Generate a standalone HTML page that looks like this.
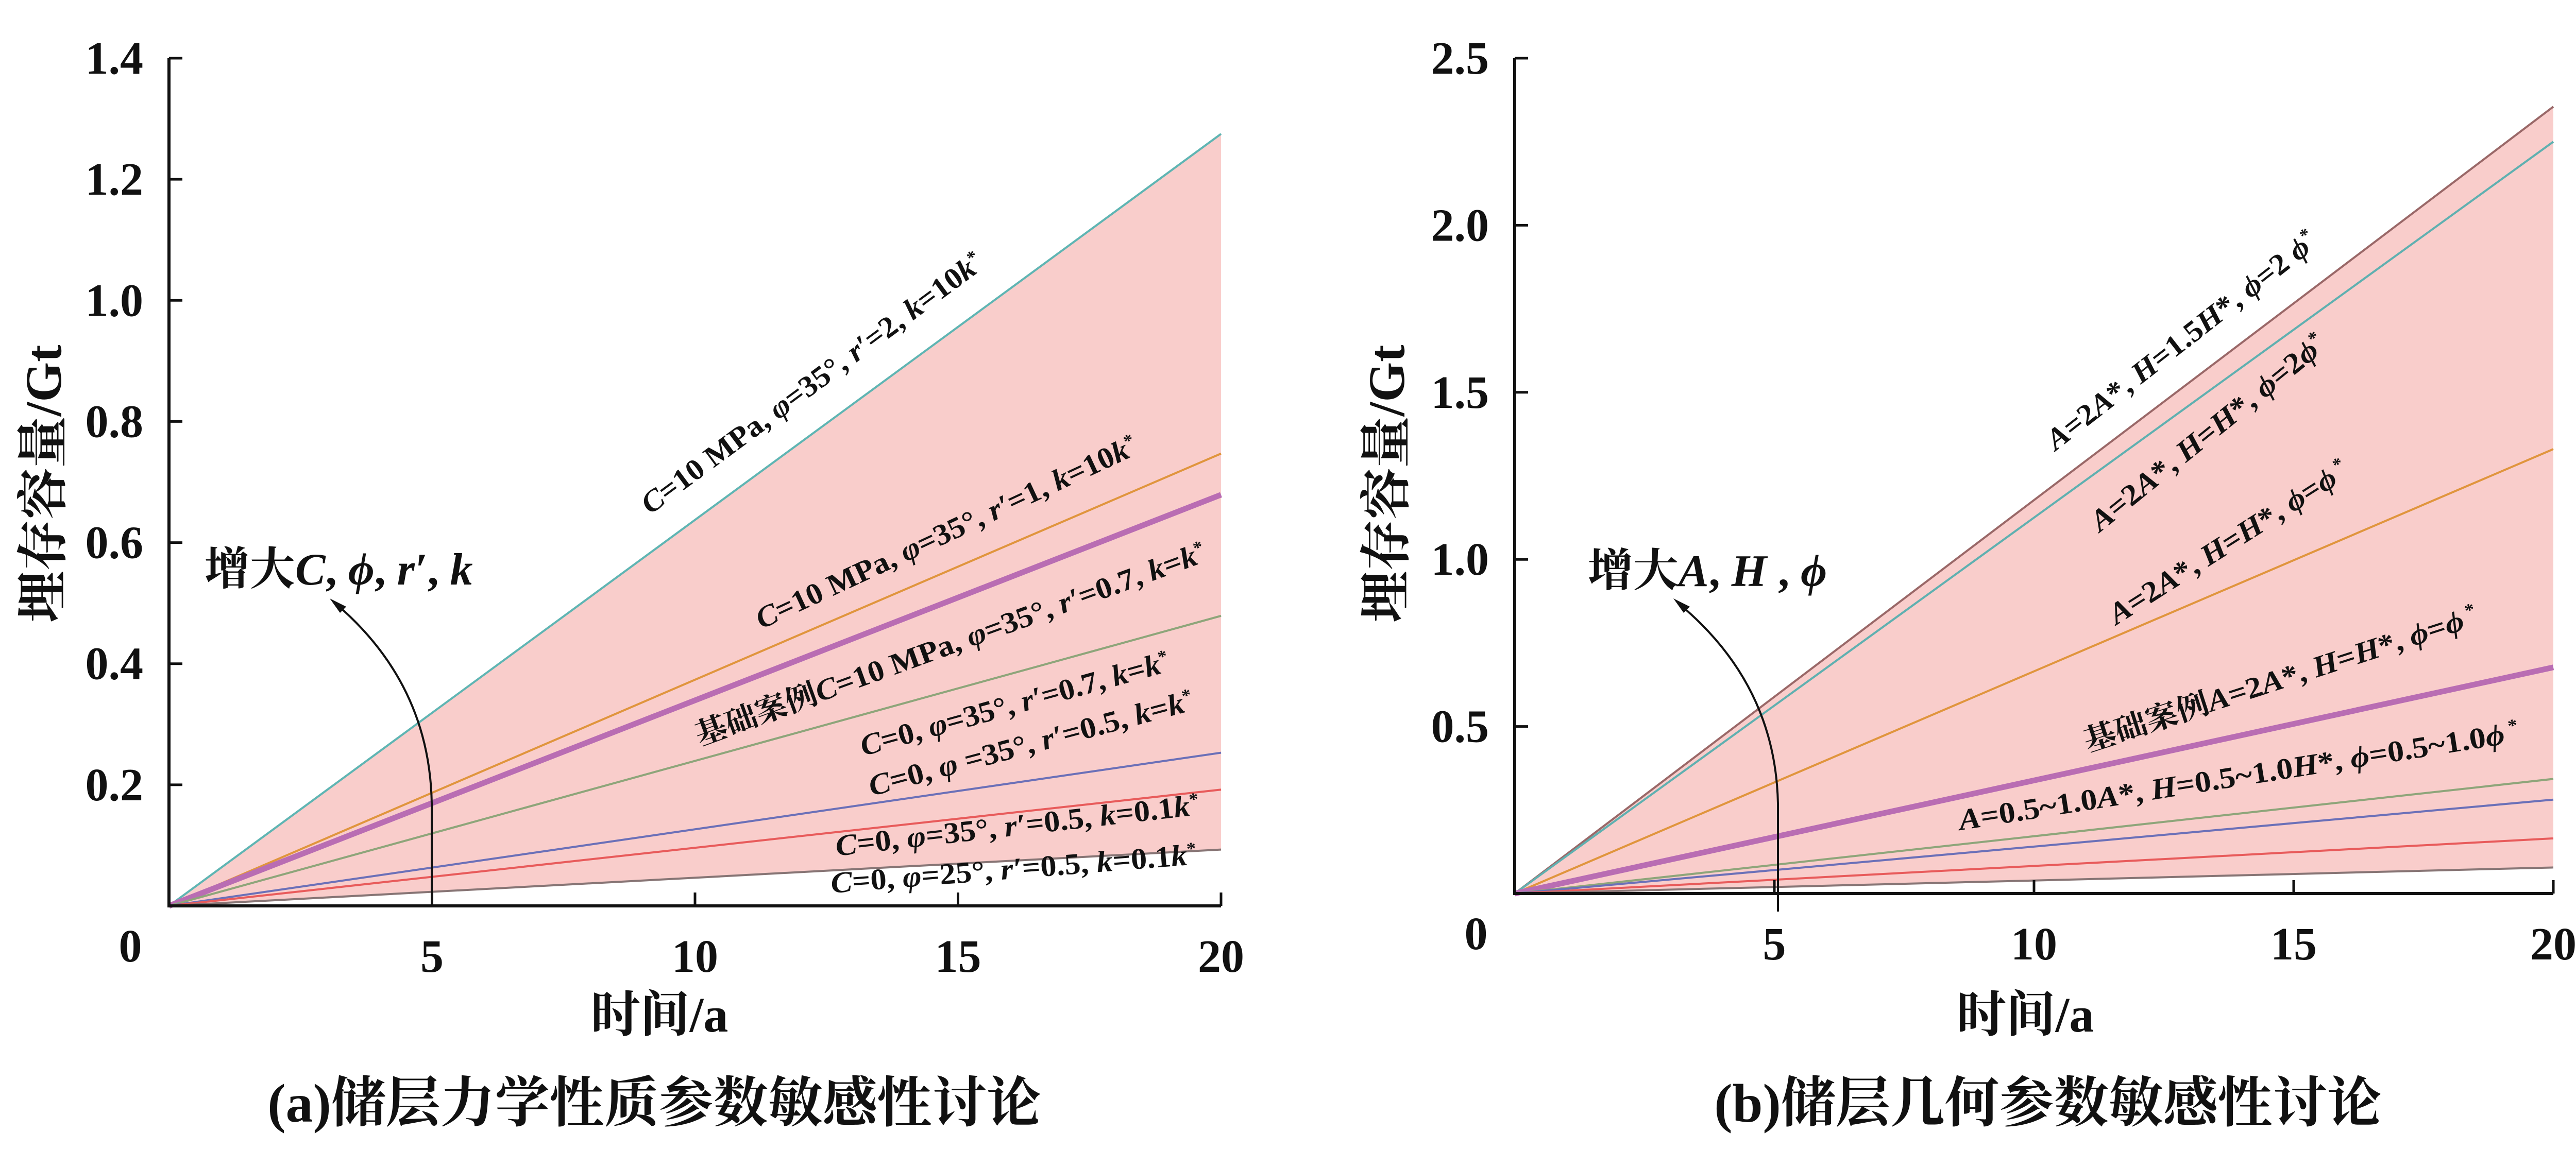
<!DOCTYPE html>
<html><head><meta charset="utf-8"><style>
html,body{margin:0;padding:0;background:#fff;}
svg{display:block;}
text{font-family:"Liberation Serif","Noto Serif CJK SC",serif;font-weight:bold;fill:#111;}
</style></head><body>
<svg id="chart" width="5070" height="2266" viewBox="0 0 5070 2266" xmlns="http://www.w3.org/2000/svg">
<rect width="5070" height="2266" fill="#fff"/>
</svg>
<script>
// ---------- data ----------
const years = [0, 20];
const xTicks = [5, 10, 15, 20];
const aYTicks = [0.2, 0.4, 0.6, 0.8, 1.0, 1.2, 1.4];
const bYTicks = [0.5, 1.0, 1.5, 2.0, 2.5];
const aNames = ['c10-r2-k10', 'c10-r1-k10', 'base-case', 'c0-r07', 'c0-r05', 'c0-r05-k01', 'c0-phi25-k01'];
const aEnd = [1.275, 0.747, 0.679, 0.479, 0.253, 0.192, 0.093];
const aColors = ['#5fb5b3', '#e0953d', '#b96db3', '#8ea57a', '#6b70b8', '#e85b5b', '#877575'];
const bNames = ['A2-H15-phi2', 'A2-H1-phi2', 'A2-H1-phi1', 'base-case', 'low-1', 'low-2', 'low-3', 'low-4'];
const bEnd = [2.355, 2.25, 1.33, 0.677, 0.343, 0.281, 0.165, 0.078];
const bColors = ['#9a6868', '#5fb0b0', '#e0953d', '#b96db3', '#8ea57a', '#6b70b8', '#e85b5b', '#877575'];

const NS = 'http://www.w3.org/2000/svg';
const svg = document.getElementById('chart');
function mk(tag, attrs, parent) {
  const e = document.createElementNS(NS, tag);
  for (const k in attrs) e.setAttribute(k, attrs[k]);
  (parent || svg).appendChild(e);
  return e;
}

function drawPanel(p) {
  const g = mk('g', {});
  
  
  const sx = v => p.x0 + (v / 20) * (p.x1 - p.x0);
  const sy = v => p.y0 - (v / p.ymax) * (p.y0 - p.yTop);
  const top = p.ends[0], bot = p.ends[p.ends.length - 1];
  const fill = mk('polygon', {points: `${sx(years[0])},${sy(0)} ${sx(years[1])},${sy(top)} ${sx(years[1])},${sy(bot)}`, fill: '#f9cdcb'}, g);
  
  
  p.ends.forEach((v, i) => {
    const l = mk('line', {x1: sx(years[0]), y1: sy(0), x2: sx(years[1]), y2: sy(v), stroke: p.colors[i], 'stroke-width': p.names[i] === 'base-case' ? 11 : 4}, g);
    
    
  });
  const ax = mk('path', {d: `M${p.x0},${p.yTop} V${p.y0} H${p.x1}`, fill: 'none', stroke: '#111', 'stroke-width': 6}, g);
  
  
  p.yTicks.forEach(t => {
    const y = sy(t);
    const tk = mk('line', {x1: p.x0, x2: p.x0 + 26, y1: y, y2: y, stroke: '#111', 'stroke-width': 5}, g);
    
    
    const tl = mk('text', {x: p.x0 - 50, y: y + 30, 'text-anchor': 'end', 'font-size': 90}, g);
    tl.textContent = t.toFixed(1);
    
    
  });
  xTicks.forEach(t => {
    const x = sx(t);
    const tk = mk('line', {x1: x, x2: x, y1: p.y0, y2: p.y0 - 26, stroke: '#111', 'stroke-width': 5}, g);
    
    
    const tl = mk('text', {x: x, y: p.y0 + 128, 'text-anchor': 'middle', 'font-size': 90}, g);
    tl.textContent = String(t);
    
    
  });
  const z = mk('text', {x: p.x0 - 75, y: p.y0 + 108, 'text-anchor': 'middle', 'font-size': 90}, g);
  z.textContent = '0';
  
  
  const xl = mk('text', {x: p.xlabX, y: 2003, 'text-anchor': 'middle', 'font-size': 96}, g);
  xl.textContent = '时间/a';
  
  
  const yl = mk('text', {x: 0, y: 0, 'text-anchor': 'middle', 'font-size': 100, transform: `translate(${p.ylabX},939) rotate(-90)`}, g);
  yl.textContent = '埋存容量/Gt';
  
  
  const cap = mk('text', {x: p.capX, y: 2178, 'text-anchor': 'middle', 'font-size': 106}, g);
  cap.textContent = p.caption;
  
  
  const ar = mk('path', {d: p.arrow, fill: 'none', stroke: '#111', 'stroke-width': 4}, g);
  
  
  const ah = mk('polygon', {points: p.head, fill: '#111'}, g);
  
  
  const at = mk('text', {x: p.arrowLab[0], y: p.arrowLab[1], 'font-size': 88}, g);
  at.innerHTML = p.arrowText;
  
  
  p.notes.forEach(n => {
    const t = mk('text', {x: 0, y: 0, 'font-size': 58, textLength: n[3], lengthAdjust: 'spacingAndGlyphs', transform: `translate(${n[0]},${n[1]}) rotate(${-n[2]})`}, g);
    t.innerHTML = n[4];
    
    
  });
}

drawPanel({
  id: 'panel-a', x0: 328, x1: 2370, y0: 1759, yTop: 113, ymax: 1.4,
  yTicks: aYTicks, ends: aEnd, colors: aColors, names: aNames,
  xlabX: 1280, ylabX: 118, capX: 1270,
  caption: '(a)储层力学性质参数敏感性讨论',
  arrow: 'M838,1759 L838,1560 Q834,1330 655,1175',
  head: '640,1162 672,1178 660,1190',
  arrowLab: [397, 1135],
  arrowText: '增大<tspan font-style="italic">C</tspan>, <tspan font-style="italic">ϕ</tspan>, <tspan font-style="italic">r′</tspan>, <tspan font-style="italic">k</tspan>',
  notes: [
    [1262, 1000, 36.5, 810, '<tspan font-style="italic">C</tspan>=10 MPa, <tspan font-style="italic">φ</tspan>=35°, <tspan font-style="italic">r′</tspan>=2, <tspan font-style="italic">k</tspan>=10<tspan font-style="italic">k</tspan><tspan dy="-20" font-size="34">*</tspan>'],
    [1478, 1222, 25, 810, '<tspan font-style="italic">C</tspan>=10 MPa,  <tspan font-style="italic">φ</tspan>=35°, <tspan font-style="italic">r′</tspan>=1, <tspan font-style="italic">k</tspan>=10<tspan font-style="italic">k</tspan><tspan dy="-20" font-size="34">*</tspan>'],
    [1358, 1448, 20, 1050, '基础案例<tspan font-style="italic">C</tspan>=10 MPa,  <tspan font-style="italic">φ</tspan>=35°, <tspan font-style="italic">r′</tspan>=0.7, <tspan font-style="italic">k</tspan>=<tspan font-style="italic">k</tspan><tspan dy="-20" font-size="34">*</tspan>'],
    [1676, 1468, 15.5, 620, '<tspan font-style="italic">C</tspan>=0, <tspan font-style="italic">φ</tspan>=35°, <tspan font-style="italic">r′</tspan>=0.7, <tspan font-style="italic">k</tspan>=<tspan font-style="italic">k</tspan><tspan dy="-20" font-size="34">*</tspan>'],
    [1692, 1546, 15, 650, '<tspan font-style="italic">C</tspan>=0,  <tspan font-style="italic">φ</tspan> =35°, <tspan font-style="italic">r′</tspan>=0.5, <tspan font-style="italic">k</tspan>=<tspan font-style="italic">k</tspan><tspan dy="-20" font-size="34">*</tspan>'],
    [1624, 1662, 6.5, 710, '<tspan font-style="italic">C</tspan>=0,  <tspan font-style="italic">φ</tspan>=35°, <tspan font-style="italic">r′</tspan>=0.5, <tspan font-style="italic">k</tspan>=0.1<tspan font-style="italic">k</tspan><tspan dy="-20" font-size="34">*</tspan>'],
    [1614, 1734, 4.5, 712, '<tspan font-style="italic">C</tspan>=0,  <tspan font-style="italic">φ</tspan>=25°, <tspan font-style="italic">r′</tspan>=0.5, <tspan font-style="italic">k</tspan>=0.1<tspan font-style="italic">k</tspan><tspan dy="-20" font-size="34">*</tspan>']
  ]
});

drawPanel({
  id: 'panel-b', x0: 2940, x1: 4956, y0: 1735, yTop: 113, ymax: 2.5,
  yTicks: bYTicks, ends: bEnd, colors: bColors, names: bNames,
  xlabX: 3931, ylabX: 2725, capX: 3975,
  caption: '(b)储层几何参数敏感性讨论',
  arrow: 'M3451,1770 L3451,1560 Q3446,1330 3262,1175',
  head: '3248,1162 3280,1178 3268,1190',
  arrowLab: [3082, 1138],
  arrowText: '增大<tspan font-style="italic">A</tspan>, <tspan font-style="italic">H</tspan> , <tspan font-style="italic">ϕ</tspan>',
  notes: [
    [3990, 876, 38, 650, '<tspan font-style="italic">A</tspan>=2<tspan font-style="italic">A</tspan>*, <tspan font-style="italic">H</tspan>=1.5<tspan font-style="italic">H</tspan>*, <tspan font-style="italic">ϕ</tspan>=2 <tspan font-style="italic">ϕ</tspan><tspan dy="-22" font-size="34">*</tspan>'],
    [4076, 1034, 39, 570, '<tspan font-style="italic">A</tspan>=2<tspan font-style="italic">A</tspan>*, <tspan font-style="italic">H</tspan>=<tspan font-style="italic">H</tspan>*, <tspan font-style="italic">ϕ</tspan>=2<tspan font-style="italic">ϕ</tspan><tspan dy="-22" font-size="34">*</tspan>'],
    [4108, 1214, 32.5, 540, '<tspan font-style="italic">A</tspan>=2<tspan font-style="italic">A</tspan>*, <tspan font-style="italic">H</tspan>=<tspan font-style="italic">H</tspan>*, <tspan font-style="italic">ϕ</tspan>=<tspan font-style="italic">ϕ</tspan><tspan dy="-22" font-size="34"> *</tspan>'],
    [4052, 1460, 18, 800, '基础案例<tspan font-style="italic">A</tspan>=2<tspan font-style="italic">A</tspan>*, <tspan font-style="italic">H</tspan>=<tspan font-style="italic">H</tspan>*, <tspan font-style="italic">ϕ</tspan>=<tspan font-style="italic">ϕ</tspan><tspan dy="-22" font-size="34"> *</tspan>'],
    [3805, 1612, 9, 1100, '<tspan font-style="italic">A</tspan>=0.5~1.0<tspan font-style="italic">A</tspan>*, <tspan font-style="italic">H</tspan>=0.5~1.0<tspan font-style="italic">H</tspan>*, <tspan font-style="italic">ϕ</tspan>=0.5~1.0<tspan font-style="italic">ϕ</tspan><tspan dy="-22" font-size="34"> *</tspan>']
  ]
});
</script>
</body></html>
